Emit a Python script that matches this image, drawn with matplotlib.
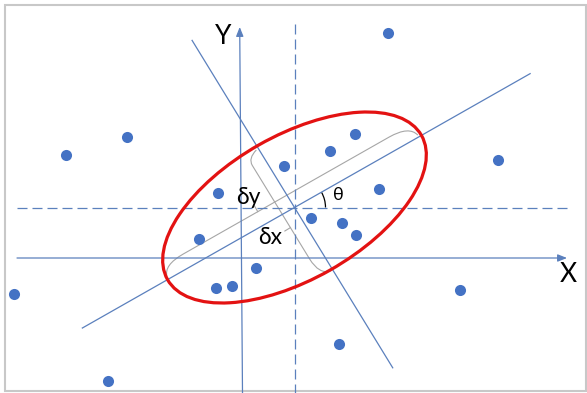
import numpy as np
import matplotlib.pyplot as plt
from matplotlib.patches import Ellipse, Arc, PathPatch, Rectangle
from matplotlib.path import Path

# scatter points (image pixel coords, y grows downward)
pts_x = [388, 126.5, 66, 497.5, 355, 330, 283.5, 218, 379, 310.5,
         342, 356, 199, 256, 215.5, 231.5, 13.5, 460, 339, 108]
pts_y = [33, 136.5, 154.5, 159.5, 134, 150.5, 165.5, 192.5, 188.5, 217.5,
         223, 234.5, 238.5, 267.5, 288, 285.5, 293.5, 289.5, 344, 380.5]

# ellipse fitted around the cluster
centre = (294.5, 207.5)
theta_deg = 29.6        # tilt of the major axis
semi_major = 146
semi_minor = 72
minor_tilt = 58.5       # drawn minor axis line (not quite perpendicular)

blue = '#4472c4'
line_col = '#5b80bd'
grey = '#a6a6a6'
red = '#e31212'

fig = plt.figure(figsize=(5.87, 3.93), dpi=100)
ax = fig.add_axes([0, 0, 1, 1])
ax.set_xlim(0, 587)
ax.set_ylim(393, 0)
ax.axis('off')

ax.add_patch(Rectangle((5, 5), 581, 386, fill=False, ec='#c8c8c8', lw=1.5))

cx, cy = centre
th = np.radians(theta_deg)
u = np.array([np.cos(th), -np.sin(th)])     # along major axis
v = np.array([-np.sin(th), -np.cos(th)])    # normal, up-left
ph = np.radians(minor_tilt)
w = np.array([np.cos(ph), np.sin(ph)])      # along drawn minor line
p = np.array([-np.sin(ph), np.cos(ph)])     # normal, left-down
c = np.array(centre)

def along(d, n, s, t):
    return c + s * d + t * n

# X / Y axes with arrows
ax.annotate('', xy=(567, 258), xytext=(17, 258),
            arrowprops=dict(arrowstyle='-|>,head_length=0.55,head_width=0.22',
                            color=line_col, lw=0.9, shrinkA=0, shrinkB=0))
ax.annotate('', xy=(239.7, 27), xytext=(242.5, 393),
            arrowprops=dict(arrowstyle='-|>,head_length=0.55,head_width=0.22',
                            color=line_col, lw=0.9, shrinkA=0, shrinkB=0))

# dashed lines through the centre
ax.plot([cx, cx], [24, 393], color=line_col, lw=0.9, ls=(0, (8, 4)))
ax.plot([17, 569], [cy, cy], color=line_col, lw=0.9, ls=(0, (8, 4)))

# rotated axes
a0, a1 = along(u, v, -244, 0), along(u, v, 271, 0)
ax.plot([a0[0], a1[0]], [a0[1], a1[1]], color=line_col, lw=0.9)
b0, b1 = along(w, p, -196, 0), along(w, p, 188, 0)
ax.plot([b0[0], b1[0]], [b0[1], b1[1]], color=line_col, lw=0.9)

# brackets
def bracket(d, n, s0, s1, s2, s3, t_end0, t_end1, T, nub_s):
    verts = [along(d, n, s0, t_end0), along(d, n, s0 + 3, T), along(d, n, s1, T),
             along(d, n, s2, T), along(d, n, s3 - 3, T), along(d, n, s3, t_end1)]
    codes = [Path.MOVETO, Path.CURVE3, Path.CURVE3,
             Path.LINETO, Path.CURVE3, Path.CURVE3]
    ax.add_patch(PathPatch(Path(verts, codes), fill=False, ec=grey, lw=0.8))
    q0, q1 = along(d, n, nub_s, T), along(d, n, nub_s, T + 6.5)
    ax.plot([q0[0], q1[0]], [q0[1], q1[1]], color=grey, lw=0.8)

bracket(u, v, -145, -120, 117, 143, 3, 2, 14.5, -34)
bracket(w, p, -69, -58, 52, 73, 2.5, 2.5, 14.0, 15)

# ellipse
ax.add_patch(Ellipse(centre, 2 * semi_major, 2 * semi_minor, angle=-theta_deg,
                     fill=False, ec=red, lw=2.3, zorder=4))
ax.add_patch(Arc(centre, 62, 62, theta1=-theta_deg, theta2=0,
                 color='black', lw=0.9))

ax.plot(pts_x, pts_y, 'o', color=blue, ms=8, mec='none', zorder=5)

fam = ['Lato', 'DejaVu Sans']
ax.text(223, 37, 'Y', fontsize=19, ha='center', va='center', family=fam)
ax.text(568.5, 275, 'X', fontsize=19, ha='center', va='center', family=fam)
ax.text(248, 197, 'δy', fontsize=16.5, ha='center', va='center', family=fam)
ax.text(270.5, 238, 'δx', fontsize=16.5, ha='center', va='center', family=fam)
ax.text(338, 195, 'θ', fontsize=13, ha='center', va='center', family=fam)

plt.savefig('out.png', dpi=100)
